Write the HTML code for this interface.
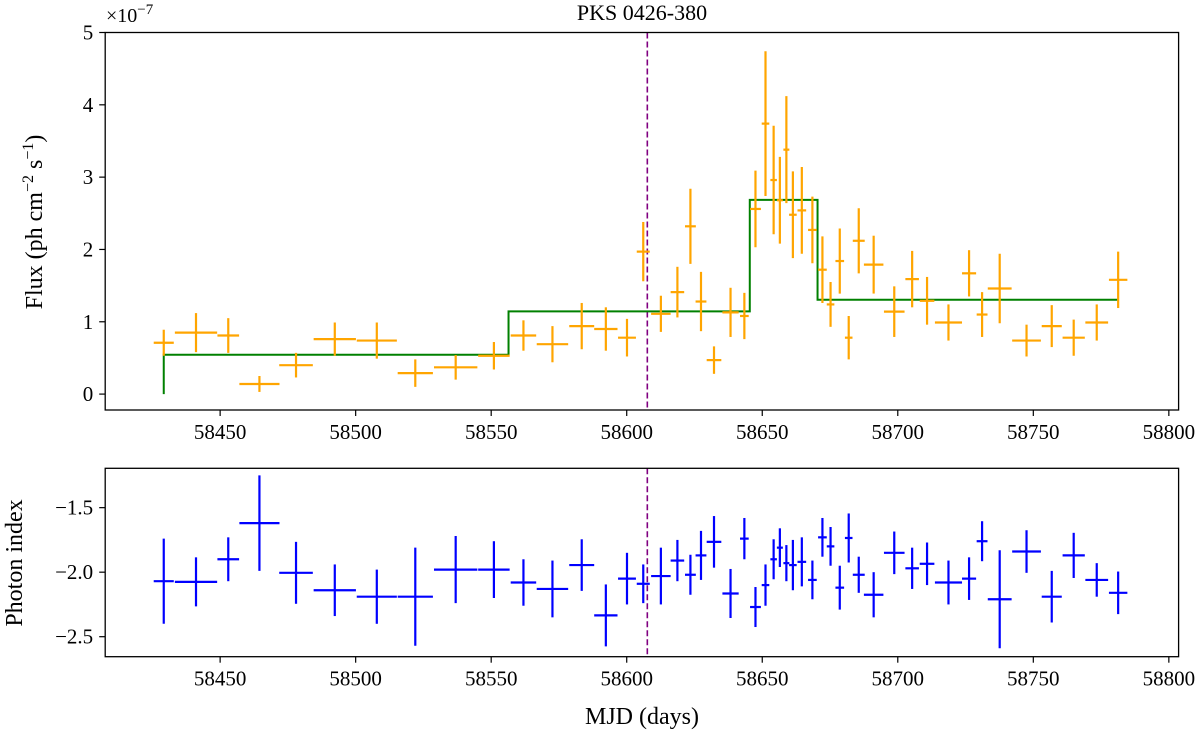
<!DOCTYPE html>
<html><head><meta charset="utf-8"><style>
body{margin:0;background:#fff}
svg{display:block}
text{font-family:"Liberation Serif",serif;fill:#000}
</style></head><body>
<svg id="fig" width="1200" height="734" viewBox="0 0 1200 734" xmlns="http://www.w3.org/2000/svg">
<text x="642" y="20" font-size="22" text-anchor="middle">PKS 0426-380</text>
<text x="106" y="22" font-size="20">×10<tspan dy="-8" font-size="15">−7</tspan></text>
<text transform="translate(42,222) rotate(-90)" font-size="24" text-anchor="middle">Flux (ph cm<tspan dy="-9" font-size="16">−2</tspan><tspan dy="9"> s</tspan><tspan dy="-9" font-size="16">−1</tspan><tspan dy="9">)</tspan></text>
<text transform="translate(22,563) rotate(-90)" font-size="24" text-anchor="middle">Photon index</text>
<text x="642" y="724" font-size="24" text-anchor="middle">MJD (days)</text>
<g id="top"></g><g id="bot"></g>
</svg>
<script>
const days=[58429.2,58441.1,58453.0,58464.5,58478.0,58492.3,58507.8,58522.0,58536.9,58551.0,58561.9,58572.6,58583.4,58592.3,58600.1,58606.1,58612.6,58618.7,58623.5,58627.4,58632.2,58638.3,58643.4,58647.5,58651.2,58654.2,58656.5,58658.9,58661.3,58664.6,58668.5,58672.2,58675.2,58678.6,58681.9,58685.6,58691.1,58698.7,58705.3,58710.8,58718.7,58726.3,58731.1,58737.6,58747.5,58756.8,58764.9,58773.4,58781.3];
const dayErr=[3.7,7.8,4.0,7.4,6.2,7.8,7.4,6.5,8.0,5.8,4.7,5.8,4.6,4.3,3.3,2.4,3.6,2.5,2.0,2.0,2.7,3.0,1.6,2.0,1.4,1.2,1.1,1.1,1.4,1.6,1.6,1.6,1.4,1.6,1.4,2.2,3.6,3.8,2.5,2.7,5.0,2.6,2.0,4.4,5.3,3.7,4.1,4.2,3.4];
const flux=[0.71,0.85,0.81,0.14,0.40,0.76,0.74,0.29,0.37,0.53,0.81,0.69,0.94,0.90,0.78,1.97,1.11,1.41,2.32,1.28,0.47,1.13,1.08,2.56,3.74,2.96,2.68,3.38,2.48,2.54,2.27,1.72,1.24,1.84,0.78,2.12,1.79,1.14,1.59,1.29,0.99,1.67,1.10,1.46,0.74,0.94,0.78,0.99,1.58];
const fluxErr=[0.18,0.27,0.24,0.11,0.17,0.23,0.25,0.19,0.17,0.19,0.21,0.25,0.32,0.30,0.26,0.41,0.25,0.35,0.52,0.41,0.19,0.34,0.32,0.53,1.0,0.75,0.6,0.74,0.6,0.6,0.46,0.46,0.31,0.45,0.3,0.45,0.4,0.35,0.39,0.33,0.25,0.32,0.31,0.48,0.22,0.29,0.25,0.25,0.39];
const index=[-2.07,-2.075,-1.90,-1.62,-2.005,-2.14,-2.19,-2.19,-1.98,-1.98,-2.08,-2.13,-1.945,-2.335,-2.05,-2.09,-2.03,-1.91,-2.02,-1.87,-1.765,-2.165,-1.74,-2.27,-2.10,-1.90,-1.81,-1.93,-1.945,-1.92,-2.06,-1.73,-1.80,-2.12,-1.735,-2.02,-2.175,-1.85,-1.97,-1.935,-2.08,-2.05,-1.76,-2.21,-1.84,-2.19,-1.87,-2.06,-2.16];
const indexErr=[0.33,0.19,0.17,0.37,0.24,0.20,0.21,0.38,0.26,0.22,0.18,0.22,0.2,0.24,0.2,0.15,0.22,0.16,0.155,0.19,0.2,0.19,0.16,0.155,0.16,0.155,0.15,0.14,0.195,0.19,0.15,0.15,0.15,0.17,0.19,0.14,0.175,0.165,0.16,0.165,0.17,0.165,0.155,0.38,0.165,0.2,0.175,0.13,0.165];
const blockEdges=[58429.2,58556.4,58645.4,58670.4,58781.3];
const blockLevels=[0.544,1.143,2.685,1.304];
const eventDay=58607.6;
const xTicks=[58450,58500,58550,58600,58650,58700,58750,58800];
const fluxTicks=[0,1,2,3,4,5];
const indexTicks=[-1.5,-2.0,-2.5];

const NS="http://www.w3.org/2000/svg";
const X0=105.2,X1=1178.6,D0=58407.6,D1=58803.6;
const xs=d=>X0+(d-D0)*(X1-X0)/(D1-D0);
const T={top:32.5,bot:410,v0:5,v1:-0.22};
const B={top:468.3,bot:656.7,v0:-1.195,v1:-2.655};
const ys=(P,v)=>P.top+(v-P.v0)*(P.bot-P.top)/(P.v1-P.v0);
function el(g,tag,a){const e=document.createElementNS(NS,tag);for(const k in a)e.setAttribute(k,a[k]);g.appendChild(e);return e;}
function axes(g,P,ticks,fmt,name){
  for(const t of xTicks){const x=xs(t);
    const tk=el(g,'line',{x1:x,x2:x,y1:P.bot,y2:P.bot+6,stroke:'#000','stroke-width':1.2});
    
    const tl=el(g,'text',{x:x,y:P.bot+29,'font-size':21,'text-anchor':'middle'});tl.textContent=t;
    }
  for(const t of ticks){const y=ys(P,t);
    const tk=el(g,'line',{x1:X0-6,x2:X0,y1:y,y2:y,stroke:'#000','stroke-width':1.2});
    
    const tl=el(g,'text',{x:X0-12,y:y+7,'font-size':21,'text-anchor':'end'});tl.textContent=fmt(t);
    }
  const ev=el(g,'line',{x1:xs(eventDay),x2:xs(eventDay),y1:P.top,y2:P.bot,stroke:'#800080','stroke-width':1.6,'stroke-dasharray':'6,3'});
  
}
function errs(g,P,vals,er,color,name){
  for(let i=0;i<days.length;i++){
    const x=xs(days[i]),y=ys(P,vals[i]);
    const h=el(g,'line',{x1:xs(days[i]-dayErr[i]),x2:xs(days[i]+dayErr[i]),y1:y,y2:y,stroke:color,'stroke-width':2.2});
    
    const v=el(g,'line',{x1:x,x2:x,y1:ys(P,vals[i]-er[i]),y2:ys(P,vals[i]+er[i]),stroke:color,'stroke-width':2.2});
    
  }
}
function frame(g,P,name){const r=el(g,'rect',{x:X0,y:P.top,width:X1-X0,height:P.bot-P.top,fill:'none',stroke:'#000','stroke-width':1.3});
  }
const gt=document.getElementById('top'),gb=document.getElementById('bot');


axes(gt,T,fluxTicks,t=>t,'flux');
axes(gb,B,indexTicks,t=>(t<0?'−':'')+Math.abs(t).toFixed(1),'index');
let d='M'+xs(blockEdges[0])+','+ys(T,0);
for(let i=0;i<blockLevels.length;i++){d+=' L'+xs(blockEdges[i])+','+ys(T,blockLevels[i])+' L'+xs(blockEdges[i+1])+','+ys(T,blockLevels[i]);}
const bb=el(gt,'path',{d:d,fill:'none',stroke:'#008000','stroke-width':2});

errs(gt,T,flux,fluxErr,'#ffa500','flux');
errs(gb,B,index,indexErr,'#0000ff','index');
frame(gt,T,'flux');frame(gb,B,'index');
</script>
</body></html>
